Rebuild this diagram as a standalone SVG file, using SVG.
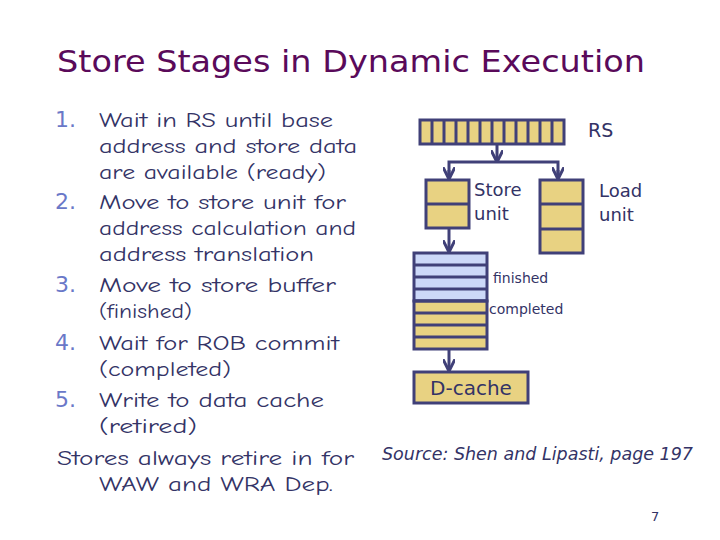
<svg xmlns="http://www.w3.org/2000/svg" width="720" height="540" viewBox="0 0 720 540">
<style>
.t{font-family:"Comic Neue","DejaVu Sans",sans-serif;font-size:21px;fill:#333366}
.n{font-family:"DejaVu Sans",sans-serif;font-size:22px;fill:#6a78c8}
.l{font-family:"DejaVu Sans",sans-serif;fill:#333366}
.box{fill:#e8d282;stroke:#404078;stroke-width:3}
.blue{fill:#ccd8f8;stroke:#404078;stroke-width:3}
.c{stroke:#404078;stroke-width:3;fill:none}
</style>
<defs><marker id="a" viewBox="0 0 10 10" refX="9" refY="5" markerWidth="4" markerHeight="4" orient="auto"><path d="M0,0 L10,5 L0,10" fill="none" stroke="#404078" stroke-width="2.5"/></marker></defs>
<rect width="720" height="540" fill="#fff"/>
<text x="57" y="72" font-family="DejaVu Sans,sans-serif" font-size="31" fill="#5a0a5a" textLength="588" lengthAdjust="spacingAndGlyphs">Store Stages in Dynamic Execution</text>
<g>
<text class="n" x="55" y="127">1.</text><text class="n" x="55" y="209">2.</text><text class="n" x="55" y="292">3.</text><text class="n" x="55" y="350">4.</text><text class="n" x="55" y="407">5.</text>
<text class="t" x="99" y="127" textLength="234" lengthAdjust="spacingAndGlyphs">Wait in RS until base</text>
<text class="t" x="99" y="153" textLength="258" lengthAdjust="spacingAndGlyphs">address and store data</text>
<text class="t" x="99" y="179" textLength="227" lengthAdjust="spacingAndGlyphs">are available (ready)</text>
<text class="t" x="99" y="209" textLength="247" lengthAdjust="spacingAndGlyphs">Move to store unit for</text>
<text class="t" x="99" y="235" textLength="257" lengthAdjust="spacingAndGlyphs">address calculation and</text>
<text class="t" x="99" y="261" textLength="215" lengthAdjust="spacingAndGlyphs">address translation</text>
<text class="t" x="99" y="292" textLength="237" lengthAdjust="spacingAndGlyphs">Move to store buffer</text>
<text class="t" x="99" y="318" textLength="93" lengthAdjust="spacingAndGlyphs">(finished)</text>
<text class="t" x="99" y="350" textLength="240" lengthAdjust="spacingAndGlyphs">Wait for ROB commit</text>
<text class="t" x="99" y="376" textLength="132" lengthAdjust="spacingAndGlyphs">(completed)</text>
<text class="t" x="99" y="407" textLength="225" lengthAdjust="spacingAndGlyphs">Write to data cache</text>
<text class="t" x="99" y="433" textLength="98" lengthAdjust="spacingAndGlyphs">(retired)</text>
<text class="t" x="57" y="465" textLength="297" lengthAdjust="spacingAndGlyphs">Stores always retire in for</text>
<text class="t" x="99" y="491" textLength="234" lengthAdjust="spacingAndGlyphs">WAW and WRA Dep.</text>
</g>
<g id="rs">
<rect class="box" x="420" y="120" width="144" height="24"/>
<path class="c" d="M432,120V144M444,120V144M456,120V144M468,120V144M480,120V144M492,120V144M504,120V144M516,120V144M528,120V144M540,120V144M552,120V144"/>
<text class="l" x="588" y="137" font-size="19">RS</text>
</g>
<g id="store">
<rect class="box" x="426" y="180" width="43" height="48"/><path class="c" d="M426,204H469"/>
<text class="l" x="474" y="196" font-size="18">Store</text><text class="l" x="474" y="220" font-size="18">unit</text>
</g>
<g id="load">
<rect class="box" x="540" y="180" width="43" height="73"/><path class="c" d="M540,204H583M540,229H583"/>
<text class="l" x="599" y="197" font-size="18">Load</text><text class="l" x="599" y="221" font-size="18">unit</text>
</g>
<g id="buffer">
<rect class="blue" x="414" y="253" width="73" height="48"/>
<rect class="box" x="414" y="301" width="73" height="48"/>
<path class="c" d="M414,265H487M414,277H487M414,289H487M414,301H487M414,313H487M414,325H487M414,337H487"/>
<text class="l" x="493" y="283" font-size="14">finished</text>
<text class="l" x="489" y="314" font-size="14">completed</text>
</g>
<g id="dcache">
<rect class="box" x="414" y="372" width="114" height="31"/>
<text class="l" x="471" y="395" font-size="20" text-anchor="middle">D-cache</text>
</g>
<g id="connectors" class="c">
<path d="M497,144V161" marker-end="url(#a)"/>
<path d="M449,178V162H558V178"/>
<path d="M449,170V178" marker-end="url(#a)"/><path d="M558,170V178" marker-end="url(#a)"/>
<path d="M449,228V251" marker-end="url(#a)"/>
<path d="M449,349V370" marker-end="url(#a)"/>
</g>
<text x="382" y="460" font-family="DejaVu Sans,sans-serif" font-style="italic" font-size="17" fill="#333366" textLength="311" lengthAdjust="spacingAndGlyphs">Source: Shen and Lipasti, page 197</text>
<text x="651" y="521" font-family="DejaVu Sans,sans-serif" font-size="13" fill="#333366">7</text>
</svg>
